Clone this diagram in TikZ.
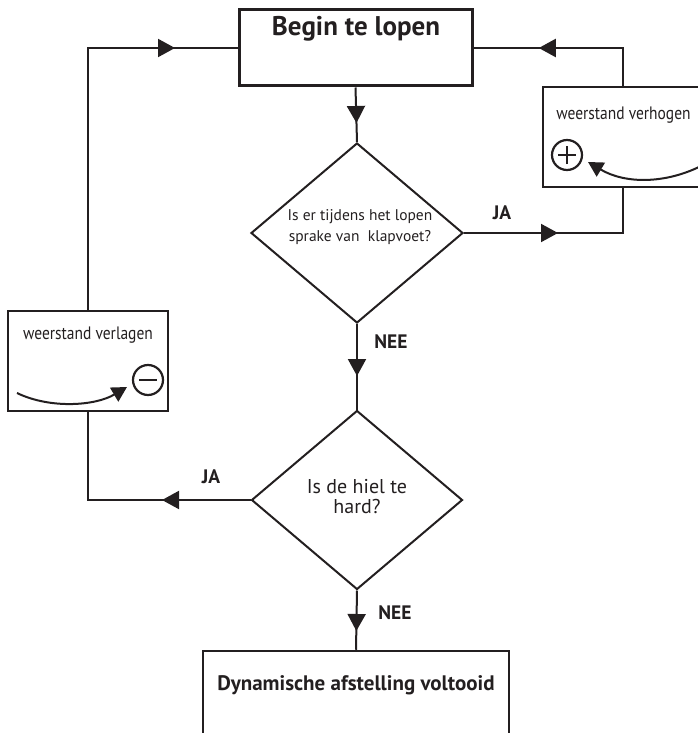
\documentclass[tikz,border=0pt]{standalone}
\usepackage{fontspec}
\setmainfont{PT Sans}
\newfontfamily\narrowfont{PT Sans}[FakeStretch=0.86]
\usetikzlibrary{shapes.geometric,arrows.meta,decorations.markings}
\definecolor{ink}{HTML}{231F20}

\begin{document}
\begin{tikzpicture}[x=1pt,y=-1pt,
  every node/.style={text=ink},
  conn/.style={draw=ink,line width=2pt},
  tipat/.style={postaction={decorate,decoration={markings,
      mark=at position #1 with {\arrow[ink]{Triangle[length=17pt,width=18pt]}}}}},
  startbox/.style={draw=ink,line width=3pt,rectangle,minimum width=233pt,minimum height=76pt,inner sep=0pt},
  sidebox/.style={draw=ink,line width=2.5pt,rectangle,minimum width=160pt,minimum height=100pt,inner sep=0pt},
  endbox/.style={draw=ink,line width=2.5pt,rectangle,minimum width=306pt,minimum height=120pt,inner sep=0pt},
  decision/.style={draw=ink,line width=2pt,diamond,inner sep=0pt,minimum width=212pt,minimum height=180pt},
  qtext/.style={align=center,inner sep=0pt},
  answer/.style={font=\fontsize{19.5}{22}\selectfont\bfseries,inner sep=0pt},
  sidetext/.style={font=\narrowfont\fontsize{18}{21}\selectfont,inner sep=0pt},
  sign/.style={circle,draw=ink,line width=2.2pt,minimum size=30pt,inner sep=0pt},
  signbar/.style={draw=ink,line width=2.4pt},
  curvearrow/.style={draw=ink,line width=2pt,-{Triangle[length=15pt,width=16pt]}}
]
\useasboundingbox (0,0) rectangle (698,733);
\clip (0,0) rectangle (698,733);

% main column
\node[startbox] (start) at (355.5,48) {};
\node[font=\fontsize{27}{31}\selectfont\bfseries,inner sep=0pt] (starttxt) at (356,29) {Begin te lopen};

\node[decision] (q1) at (357,233) {};
\node[qtext,font=\fontsize{15.5}{21}\selectfont] (q1txt) at (360,227) {Is er tijdens het lopen\\sprake van\ \ klapvoet?};

\node[decision,minimum width=211pt,minimum height=179pt] (q2) at (357,500) {};
\node[qtext,font=\fontsize{20}{20}\selectfont] (q2txt) at (357,497) {Is de hiel te\\hard?};

\node[endbox] (finish) at (356,711) {};
\node[font=\fontsize{21}{25}\selectfont\bfseries,inner sep=0pt] (finishtxt) at (356,685) {Dynamische afstelling voltooid};

% side boxes
\node[sidebox] (up) at (623,137) {};
\node[sidetext] (uptxt) at (623.5,115) {weerstand verhogen};
\node[sign] (plus) at (567,155) {};
\draw[signbar] ([xshift=-9pt]plus.center) -- ([xshift=9pt]plus.center)
               ([yshift=-9pt]plus.center) -- ([yshift=9pt]plus.center);
\coordinate (upfrom) at (701,166);
\coordinate (upto) at (588,162);
\draw[curvearrow] (upfrom) .. controls (665,184) and (625,184) .. (upto);

\node[sidebox] (down) at (88,361) {};
\node[sidetext] (downtxt) at (88,335) {weerstand verlagen};
\node[sign] (minus) at (148,380) {};
\draw[signbar] ([xshift=-9pt]minus.center) -- ([xshift=9pt]minus.center);
\coordinate (downfrom) at (17,393);
\coordinate (downto) at (127,387);
\draw[curvearrow] (downfrom) .. controls (50,409) and (95,406) .. (downto);

% connectors
\draw[conn,tipat=35.5pt] (start.south) -- (q1.north);
\draw[conn,tipat=94pt] (q1.east) -| (up.south);
\draw[conn,tipat=122pt] (up.north) |- (start.east);
\draw[conn,tipat=52pt] (q1.south) -- (q2.north);
\draw[conn,tipat=88.5pt] (q2.west) -| (down.south);
\draw[conn,tipat=348.75pt] (down.north) |- (start.west);
\draw[conn,tipat=40.5pt] (q2.south) -- (finish.north);

% answer labels
\node[answer] (ja1) at (502,213) {JA};
\node[answer] (nee1) at (391,342) {NEE};
\node[answer] (ja2) at (211,477) {JA};
\node[answer] (nee2) at (395,613) {NEE};
\end{tikzpicture}
\end{document}
